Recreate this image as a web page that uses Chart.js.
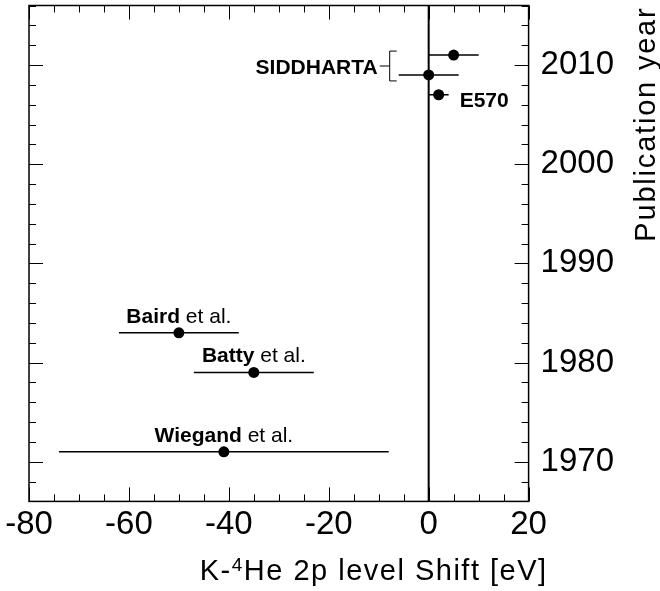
<!DOCTYPE html>
<html>
<head>
<meta charset="utf-8">
<script src="https://cdn.jsdelivr.net/npm/chart.js@4/dist/chart.umd.min.js"></script>
<style>
  html, body { margin: 0; padding: 0; background: #fff; }
  #contenedor { width: 660px; height: 591px; }
</style>
</head>
<body>
<div id="contenedor"><canvas id="graficoNiveles"></canvas></div>
<script>
// Datos: desplazamiento del nivel 2p (eV) y año de publicación.
const experimentos = ['Wiegand', 'Batty', 'Baird', 'SIDDHARTA', 'SIDDHARTA', 'E570'];
const desplazamiento = [-41, -35, -50, 5, 0, 2];
const errorInf = [-74, -47, -62, 0, -6, 0];
const errorSup = [-8, -23, -38, 10, 6, 4];
const anioPublicacion = [1971, 1979, 1983, 2011, 2009, 2007];

const ticksX = [-80, -60, -40, -20, 0, 20];
const ticksY = [1970, 1980, 1990, 2000, 2010];

const FUENTE = "'Liberation Sans', Arial, sans-serif";

// Dibuja barras de error, línea en cero, marco con ticks internos, etiquetas y títulos
const marcoPlugin = {
    id: 'marco',
    beforeDatasetsDraw(chart) {
        const { ctx, chartArea: a, scales: { x, y } } = chart;
        ctx.save();
        ctx.strokeStyle = '#000';

        // barras de error horizontales
        ctx.lineWidth = 1.5;
        for (let i = 0; i < anioPublicacion.length; i++) {
            let py = y.getPixelForValue(anioPublicacion[i]);
            ctx.beginPath();
            ctx.moveTo(x.getPixelForValue(errorInf[i]), py);
            ctx.lineTo(x.getPixelForValue(errorSup[i]), py);
            ctx.stroke();
        }

        // línea vertical en cero
        let x0 = x.getPixelForValue(0);
        ctx.lineWidth = 2;
        ctx.beginPath();
        ctx.moveTo(x0, a.top);
        ctx.lineTo(x0, a.bottom);
        ctx.stroke();
        ctx.restore();
    },
    afterDatasetsDraw(chart) {
        const { ctx, chartArea: a, scales: { x, y } } = chart;
        ctx.save();
        ctx.strokeStyle = '#000';
        ctx.fillStyle = '#000';

        // ticks hacia adentro en los cuatro lados
        ctx.lineWidth = 1;
        ctx.beginPath();
        for (let v = -80; v <= 20; v += 5) {
            let px = Math.round(x.getPixelForValue(v)) + 0.5;
            let largo = (v % 20 === 0) ? 14 : 7;
            ctx.moveTo(px, a.bottom); ctx.lineTo(px, a.bottom - largo);
            ctx.moveTo(px, a.top); ctx.lineTo(px, a.top + largo);
        }
        for (let v = 1966; v <= 2016; v += 2) {
            let py = Math.round(y.getPixelForValue(v)) + 0.5;
            let largo = (v % 10 === 0) ? 14 : 7;
            ctx.moveTo(a.left, py); ctx.lineTo(a.left + largo, py);
            ctx.moveTo(a.right, py); ctx.lineTo(a.right - largo, py);
        }
        ctx.stroke();

        // marco
        ctx.lineWidth = 1.5;
        ctx.strokeRect(a.left, a.top, a.right - a.left, a.bottom - a.top);

        // etiquetas "X et al." centradas sobre cada punto
        ctx.textBaseline = 'alphabetic';
        for (let i = 0; i < 3; i++) {
            let px = x.getPixelForValue(desplazamiento[i]);
            let py = y.getPixelForValue(anioPublicacion[i]);
            ctx.font = 'bold 21px ' + FUENTE;
            let wB = ctx.measureText(experimentos[i]).width;
            ctx.font = '21px ' + FUENTE;
            let wN = ctx.measureText(' et al.').width;
            let inicio = px - (wB + wN) / 2;
            ctx.textAlign = 'left';
            ctx.font = 'bold 21px ' + FUENTE;
            ctx.fillText(experimentos[i], inicio, py - 10);
            ctx.font = '21px ' + FUENTE;
            ctx.fillText(' et al.', inicio + wB, py - 10);
        }

        // E570 a la derecha del punto
        let pxE = x.getPixelForValue(desplazamiento[5]);
        let pyE = y.getPixelForValue(anioPublicacion[5]);
        ctx.font = 'bold 21px ' + FUENTE;
        ctx.textAlign = 'left';
        ctx.fillText(experimentos[5], pxE + 21, pyE + 12);

        // corchete que agrupa las dos medidas de SIDDHARTA
        let ySup = y.getPixelForValue(anioPublicacion[3]) - 4;
        let yInf = y.getPixelForValue(anioPublicacion[4]) + 6;
        let xc = x.getPixelForValue(Math.min(errorInf[3], errorInf[4])) - 9;
        let yMed = (ySup + yInf) / 2;
        ctx.lineWidth = 1;
        ctx.beginPath();
        ctx.moveTo(xc + 7, ySup); ctx.lineTo(xc, ySup);
        ctx.lineTo(xc, yInf); ctx.lineTo(xc + 7, yInf);
        ctx.moveTo(xc, yMed); ctx.lineTo(xc - 10, yMed);
        ctx.stroke();
        ctx.textAlign = 'right';
        ctx.fillText(experimentos[3], xc - 12, yMed + 8);

        // título del eje X (alineado a la derecha)
        ctx.letterSpacing = '1.5px';
        let partes = [['K-', 29, 0], ['4', 19, -9], ['He 2p level Shift [eV]', 29, 0]];
        let total = 0;
        for (let p of partes) {
            ctx.font = p[1] + 'px ' + FUENTE;
            total += ctx.measureText(p[0]).width;
        }
        let cx = a.right + 19 - total;
        ctx.textAlign = 'left';
        for (let p of partes) {
            ctx.font = p[1] + 'px ' + FUENTE;
            ctx.fillText(p[0], cx, 580 + p[2]);
            cx += ctx.measureText(p[0]).width;
        }

        // título del eje Y (vertical, alineado arriba)
        ctx.letterSpacing = '1.8px';
        ctx.translate(655, a.top + 1);
        ctx.rotate(-Math.PI / 2);
        ctx.font = '29px ' + FUENTE;
        ctx.textAlign = 'right';
        ctx.fillText('Publication year', 0, 0);
        ctx.restore();
    }
};

// Quita el margen que Chart.js reserva para las etiquetas de los extremos
function sinRelleno(escala) {
    escala.paddingTop = 0;
    escala.paddingBottom = 0;
    escala.paddingLeft = 0;
    escala.paddingRight = 0;
}

let ctx = document.getElementById('graficoNiveles').getContext('2d');

window.miGrafica = new Chart(ctx, {
    type: 'scatter',
    data: {
        datasets: [{
            label: 'K-4He 2p',
            data: desplazamiento.map((v, i) => ({ x: v, y: anioPublicacion[i] })),
            pointRadius: 5.5,
            pointHoverRadius: 5.5,
            backgroundColor: '#000',
            borderWidth: 0
        }]
    },
    options: {
        responsive: true,
        maintainAspectRatio: false,
        animation: false,
        layout: { padding: { left: 29, top: 5, right: 34, bottom: 42 } },
        plugins: { legend: { display: false }, tooltip: { enabled: false } },
        scales: {
            x: {
                type: 'linear',
                min: -80,
                max: 20,
                afterBuildTicks: s => { s.ticks = ticksX.map(v => ({ value: v })); },
                afterFit: sinRelleno,
                ticks: { font: { family: FUENTE, size: 33 }, color: '#000', padding: 4, maxRotation: 0, autoSkip: false },
                grid: { display: false, drawTicks: false },
                border: { display: false }
            },
            y: {
                type: 'linear',
                position: 'right',
                min: 1966,
                max: 2016,
                afterBuildTicks: s => { s.ticks = ticksY.map(v => ({ value: v })); },
                afterFit: sinRelleno,
                ticks: {
                    font: { family: FUENTE, size: 33 }, color: '#000', padding: 12, autoSkip: false,
                    callback: v => String(v)
                },
                grid: { display: false, drawTicks: false },
                border: { display: false }
            }
        }
    },
    plugins: [marcoPlugin]
});
</script>
</body>
</html>
